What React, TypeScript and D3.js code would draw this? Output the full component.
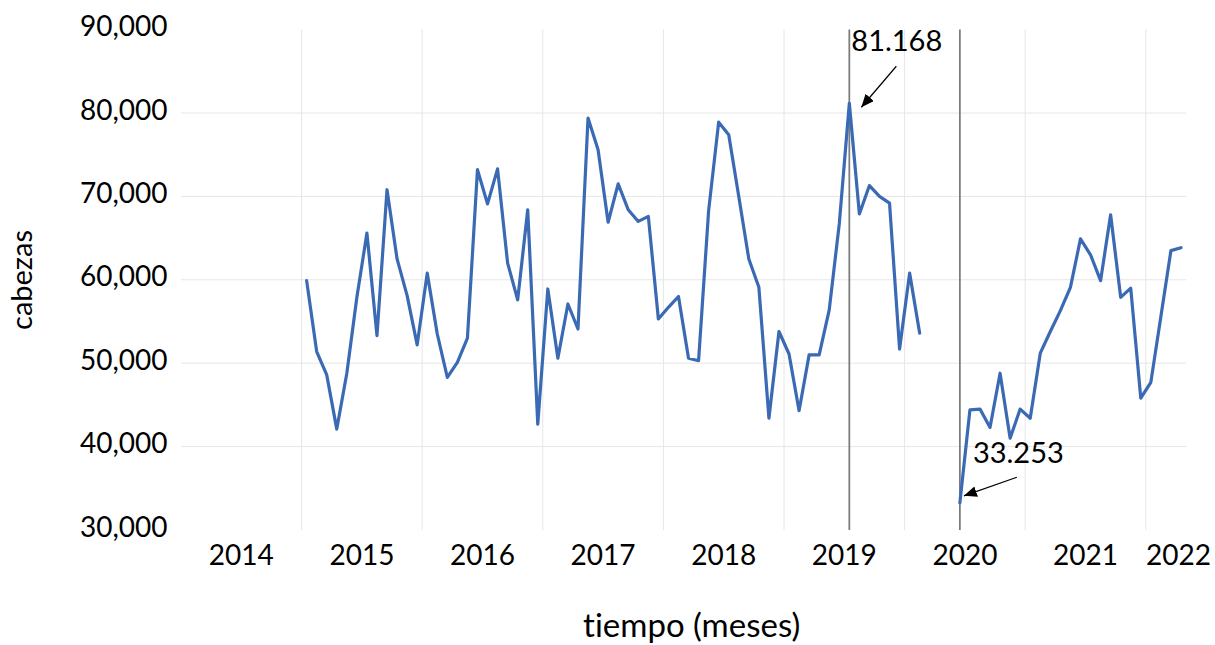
import React, { useEffect, useRef } from 'react'
import * as d3 from 'd3'

// monthly head counts, Jan 2015 .. Apr 2022 (Mar-May 2020 missing)
const years = [2015, 2016, 2017, 2018, 2019, 2020, 2021, 2022]
const values2015 = [59900, 51400, 48600, 42100, 48800, 57900, 65600, 53300, 70800, 62500, 58100, 52200]
const values2016 = [60800, 53500, 48300, 50100, 53000, 73200, 69100, 73300, 62000, 57600, 68400, 42700]
const values2017 = [58900, 50600, 57100, 54100, 79400, 75600, 66900, 71500, 68400, 67000, 67600, 55300]
const values2018 = [56700, 58000, 50600, 50300, 68300, 78900, 77400, 70000, 62500, 59100, 43400, 53800]
const values2019 = [51100, 44300, 51000, 51000, 56400, 66700, 81168, 67900, 71300, 70000, 69200, 51700]
const values2020 = [60800, 53600, null, null, null, 33253, 44400, 44500, 42300, 48800, 41000, 44500]
const values2021 = [43400, 51200, 53800, 56300, 59100, 64900, 63000, 59900, 67800, 57900, 59000, 45800]
const values2022 = [47700, 55600, 63500, 63850]

const yearLabels = ['2014', '2015', '2016', '2017', '2018', '2019', '2020', '2021', '2022']
const yTicks = [30000, 40000, 50000, 60000, 70000, 80000, 90000]

const W = 1215
const H = 645
const FONT = 'Lato, "Open Sans", sans-serif'

export default function App() {
    const ref = useRef<SVGSVGElement>(null)

    useEffect(() => {
        document.body.style.margin = '0'
        const svg = d3.select(ref.current)
        svg.selectAll('*').remove()

        const all = [values2015, values2016, values2017, values2018, values2019, values2020, values2021, values2022]
        // month index counted from Jan 2014
        const data: { m: number, v: number | null }[] = []
        all.forEach((arr, yi) => {
            arr.forEach((v, mi) => data.push({ m: (years[yi] - 2014) * 12 + mi, v }))
        })

        const left = 181, right = 1186, top = 29.6, bottom = 530
        const x = d3.scaleLinear().domain([0, 100]).range([left, right])
        const y = d3.scaleLinear().domain([30000, 90000]).range([bottom, top])

        // horizontal gridlines (not at min / max)
        svg.append('g')
            .selectAll('line')
            .data(yTicks.filter(t => t > 30000 && t < 90000))
            .enter()
            .append('line')
            .attr('x1', left).attr('x2', right)
            .attr('y1', d => y(d)).attr('y2', d => y(d))
            .attr('stroke', '#e6e6e6')
            .attr('stroke-width', 1)

        // vertical gridlines at year boundaries
        svg.append('g')
            .selectAll('line')
            .data(years)
            .enter()
            .append('line')
            .attr('x1', d => x((d - 2014) * 12)).attr('x2', d => x((d - 2014) * 12))
            .attr('y1', top).attr('y2', bottom)
            .attr('stroke', '#e6e6e6')
            .attr('stroke-width', 1)

        // y tick labels
        svg.append('g')
            .selectAll('text')
            .data(yTicks)
            .enter()
            .append('text')
            .attr('x', 167.5)
            .attr('y', d => y(d) + 6.5)
            .attr('text-anchor', 'end')
            .style('font-family', FONT)
            .style('font-size', '28px')
            .attr('fill', '#000')
            .text(d => d3.format(',')(d))

        // x year labels, centred in each year
        svg.append('g')
            .selectAll('text')
            .data(yearLabels)
            .enter()
            .append('text')
            .attr('x', (d, i) => i === yearLabels.length - 1 ? 1211 : x(i * 12 + 6))
            .attr('y', 565)
            .attr('text-anchor', (d, i) => i === yearLabels.length - 1 ? 'end' : 'middle')
            .style('font-family', FONT)
            .style('font-size', '28px')
            .attr('fill', '#000')
            .text(d => d)

        // reference lines at max and min
        const valid = data.filter(d => d.v != null) as { m: number, v: number }[]
        const maxP = valid.reduce((a, b) => (b.v > a.v ? b : a))
        const minP = valid.reduce((a, b) => (b.v < a.v ? b : a))
        const px = (d: { m: number }) => x(d.m + 0.5)

        svg.append('g')
            .selectAll('line')
            .data([maxP, minP])
            .enter()
            .append('line')
            .attr('x1', px).attr('x2', px)
            .attr('y1', top).attr('y2', bottom)
            .attr('stroke', '#7b7b7b')
            .attr('stroke-width', 1.75)

        // series
        const line = d3.line<{ m: number, v: number | null }>()
            .defined(d => d.v != null)
            .x(d => x(d.m + 0.5))
            .y(d => y(d.v as number))

        svg.append('path')
            .datum(data)
            .attr('d', line)
            .attr('fill', 'none')
            .attr('stroke', '#3b6ab4')
            .attr('stroke-width', 3.2)
            .attr('stroke-linejoin', 'round')
            .attr('stroke-linecap', 'round')

        // arrows + value labels
        svg.append('defs').append('marker')
            .attr('id', 'arrowhead')
            .attr('markerUnits', 'userSpaceOnUse')
            .attr('markerWidth', 14).attr('markerHeight', 12)
            .attr('refX', 13).attr('refY', 5.5)
            .attr('orient', 'auto')
            .append('path')
            .attr('d', 'M0,0 L13,5.5 L0,11 Z')
            .attr('fill', '#000')

        const fmt = (v: number) => d3.format(',')(v).replace(',', '.')
        const notes = [
            { p: maxP, tip: [12, 4], tail: [47, -37], label: [2, -52] },
            { p: minP, tip: [4, -7], tail: [57, -25.6], label: [13, -40] },
        ]
        notes.forEach(n => {
            const cx = px(n.p), cy = y(n.p.v)
            svg.append('line')
                .attr('x1', cx + n.tail[0]).attr('y1', cy + n.tail[1])
                .attr('x2', cx + n.tip[0]).attr('y2', cy + n.tip[1])
                .attr('stroke', '#000')
                .attr('stroke-width', 1.2)
                .attr('marker-end', 'url(#arrowhead)')
            svg.append('text')
                .attr('x', cx + n.label[0])
                .attr('y', cy + n.label[1])
                .style('font-family', FONT)
                .style('font-size', '29px')
                .attr('fill', '#000')
                .text(fmt(n.p.v))
        })

        // axis titles
        svg.append('text')
            .attr('transform', 'translate(31.5,280) rotate(-90)')
            .attr('text-anchor', 'middle')
            .style('font-family', FONT)
            .style('font-size', '29px')
            .text('cabezas')

        svg.append('text')
            .attr('x', 691.7)
            .attr('y', 637)
            .attr('text-anchor', 'middle')
            .style('font-family', FONT)
            .style('font-size', '33px')
            .style('font-variant-ligatures', 'none')
            .text('tiempo (meses)')
    }, [])

    return (
        <>
            <svg ref={ref} width={W} height={H} style={{ display: 'block', background: '#fff' }} />
        </>
    )
}
